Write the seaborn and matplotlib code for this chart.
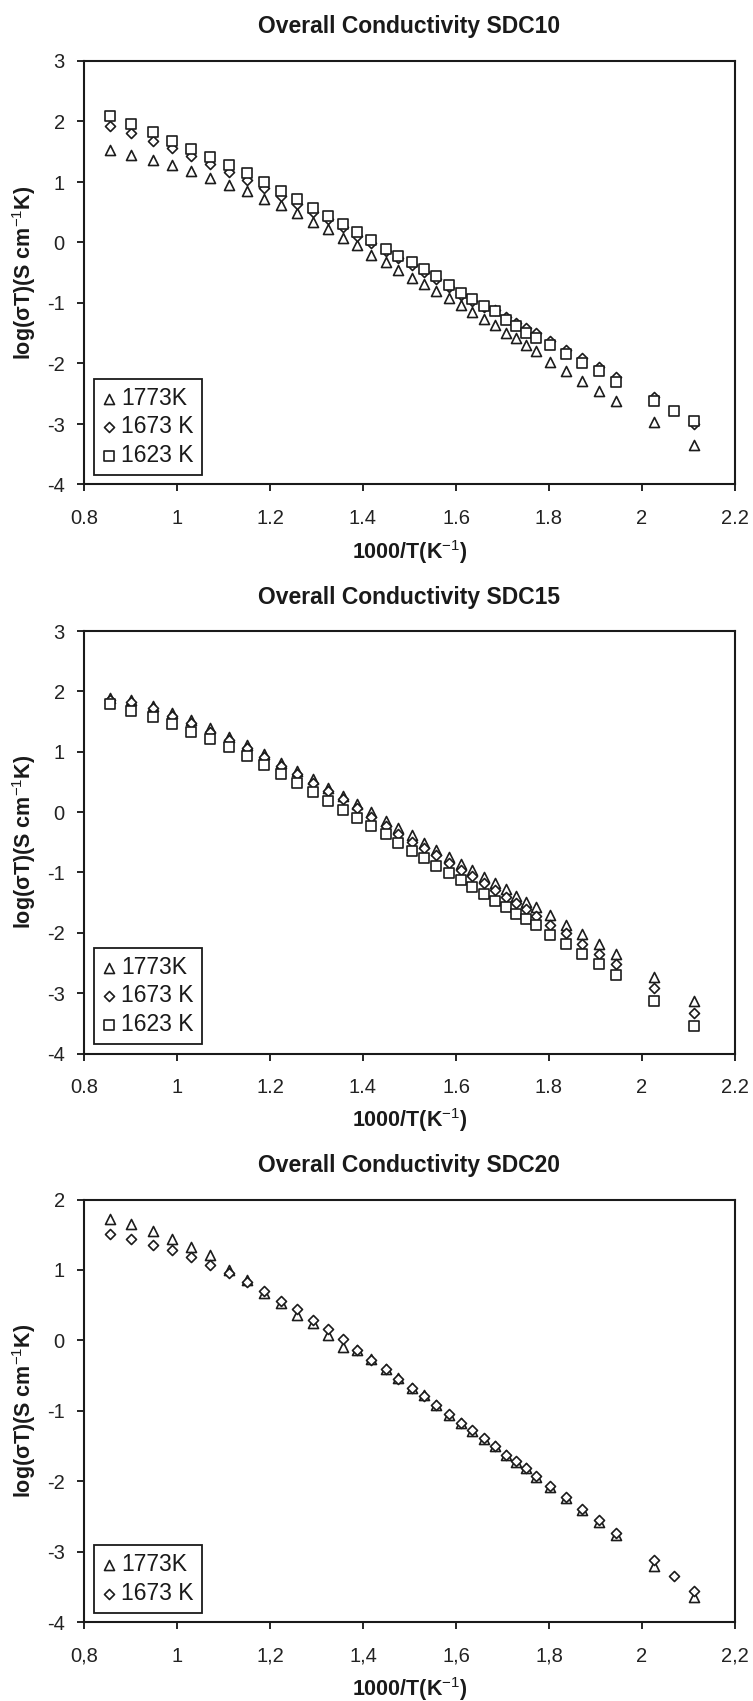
"""Overall conductivity of SDC10 / SDC15 / SDC20 — Arrhenius-type plots."""

import matplotlib

matplotlib.use("Agg")
import matplotlib.pyplot as plt
import numpy as np
import seaborn as sns

sns.set_theme(style="ticks")
plt.rcParams["font.family"] = ["Liberation Sans", "DejaVu Sans"]
plt.rcParams["mathtext.fontset"] = "custom"
plt.rcParams["mathtext.rm"] = "Liberation Sans"
plt.rcParams["mathtext.it"] = "Liberation Sans:italic"
plt.rcParams["mathtext.bf"] = "Liberation Sans:bold"

nan = np.nan

# 1000/T (K^-1), shared by every series
inv_temp = [
    0.856, 0.902, 0.948, 0.990, 1.031, 1.072, 1.111, 1.151, 1.187, 1.223,
    1.257, 1.292, 1.325, 1.356, 1.388, 1.418, 1.449, 1.476, 1.505, 1.531,
    1.558, 1.585, 1.611, 1.635, 1.660, 1.683, 1.707, 1.728, 1.751, 1.771,
    1.803, 1.836, 1.871, 1.907, 1.944, 2.026, 2.068, 2.112,
]

# SDC10
sdc10_1773 = [
    1.527, 1.444, 1.362, 1.279, 1.185, 1.059, 0.948, 0.854, 0.727, 0.617,
    0.490, 0.341, 0.215, 0.082, -0.045, -0.199, -0.321, -0.459, -0.580, -0.690,
    -0.801, -0.916, -1.038, -1.148, -1.260, -1.369, -1.496, -1.573, -1.688, -1.794,
    -1.976, -2.125, -2.290, -2.456, -2.621, -2.968, nan, -3.354,
]
sdc10_1673 = [
    1.924, 1.803, 1.682, 1.555, 1.428, 1.296, 1.169, 1.031, 0.900, 0.770,
    0.640, 0.510, 0.385, 0.250, 0.115, -0.010, -0.140, -0.260, -0.370, -0.480,
    -0.600, -0.740, -0.860, -0.960, -1.060, -1.110, -1.235, -1.330, -1.420, -1.500,
    -1.630, -1.770, -1.910, -2.050, -2.230, -2.560, nan, -3.000,
]
sdc10_1623 = [
    2.095, 1.957, 1.820, 1.682, 1.544, 1.417, 1.279, 1.141, 0.998, 0.854,
    0.716, 0.578, 0.446, 0.303, 0.170, 0.038, -0.100, -0.222, -0.321, -0.431,
    -0.552, -0.700, -0.828, -0.938, -1.054, -1.131, -1.275, -1.385, -1.490, -1.573,
    -1.700, -1.838, -1.987, -2.130, -2.307, -2.621, -2.787, -2.958,
]

# SDC15
sdc15_1773 = [
    1.890, 1.865, 1.765, 1.640, 1.520, 1.385, 1.245, 1.105, 0.955, 0.815,
    0.680, 0.540, 0.405, 0.270, 0.135, 0.005, -0.140, -0.270, -0.380, -0.518,
    -0.628, -0.739, -0.860, -0.959, -1.081, -1.169, -1.280, -1.390, -1.484, -1.567,
    -1.705, -1.871, -2.020, -2.185, -2.351, -2.738, nan, -3.124,
]
sdc15_1673 = [
    1.850, 1.824, 1.719, 1.592, 1.470, 1.332, 1.194, 1.056, 0.907, 0.763,
    0.625, 0.487, 0.349, 0.211, 0.073, -0.080, -0.230, -0.370, -0.490, -0.600,
    -0.711, -0.838, -0.959, -1.059, -1.180, -1.291, -1.412, -1.512, -1.611, -1.722,
    -1.871, -2.009, -2.185, -2.351, -2.517, -2.920, nan, -3.323,
]
sdc15_1623 = [
    1.790, 1.680, 1.581, 1.459, 1.332, 1.211, 1.073, 0.929, 0.780, 0.631,
    0.487, 0.338, 0.189, 0.034, -0.104, -0.230, -0.370, -0.518, -0.645, -0.766,
    -0.888, -1.004, -1.125, -1.247, -1.357, -1.468, -1.578, -1.689, -1.777, -1.876,
    -2.036, -2.191, -2.357, -2.522, -2.699, -3.130, nan, -3.544,
]

# SDC20
sdc20_1773 = [
    1.720, 1.645, 1.554, 1.443, 1.325, 1.212, 0.997, 0.851, 0.678, 0.537,
    0.364, 0.243, 0.075, -0.093, -0.140, -0.270, -0.410, -0.540, -0.675, -0.780,
    -0.915, -1.055, -1.180, -1.285, -1.400, -1.505, -1.635, -1.725, -1.820, -1.935,
    -2.085, -2.240, -2.415, -2.580, -2.770, -3.200, nan, -3.640,
]
sdc20_1673 = [
    1.517, 1.443, 1.356, 1.276, 1.177, 1.064, 0.957, 0.825, 0.705, 0.563,
    0.442, 0.285, 0.154, 0.023, -0.135, -0.281, -0.407, -0.544, -0.670, -0.790,
    -0.921, -1.052, -1.173, -1.278, -1.393, -1.498, -1.629, -1.718, -1.813, -1.928,
    -2.075, -2.222, -2.390, -2.558, -2.731, -3.124, -3.349, -3.554,
]

x_ticks = [0.8, 1.0, 1.2, 1.4, 1.6, 1.8, 2.0, 2.2]
x_ticklabels_dot = ["0.8", "1", "1.2", "1.4", "1.6", "1.8", "2", "2.2"]
x_ticklabels_comma = ["0,8", "1", "1,2", "1,4", "1,6", "1,8", "2", "2,2"]
y_ticks_a = [3, 2, 1, 0, -1, -2, -3, -4]
y_ticks_b = [2, 1, 0, -1, -2, -3, -4]

EDGE = "#1c1c1c"
MARKERS = {"1773K": ("^", 52), "1673 K": ("D", 26), "1623 K": ("s", 42)}

FIG_W, FIG_H = 753, 1701
AX_L, AX_R = 84, 735


def add_axes(fig, top_px, bottom_px):
    return fig.add_axes([
        AX_L / FIG_W,
        1 - bottom_px / FIG_H,
        (AX_R - AX_L) / FIG_W,
        (bottom_px - top_px) / FIG_H,
    ])


def draw_panel(ax, title, series, y_ticks, x_labels):
    for label, values in series:
        marker, size = MARKERS[label]
        sns.scatterplot(
            x=inv_temp, y=values, marker=marker, s=size,
            facecolor="white", edgecolor=EDGE, linewidth=1.2,
            label=label, ax=ax, zorder=3,
        )

    ax.set_xlim(0.8, 2.2)
    ax.set_ylim(min(y_ticks), max(y_ticks))
    ax.set_xticks(x_ticks, labels=x_labels)
    ax.set_yticks(y_ticks, labels=[str(t) for t in y_ticks])
    ax.tick_params(axis="both", direction="out", length=4.8, width=1.2,
                   color="black", labelsize=14.5, labelcolor="#222222")
    ax.tick_params(axis="y", pad=9)
    ax.tick_params(axis="x", pad=13)
    for sp in ax.spines.values():
        sp.set_visible(True)
        sp.set_linewidth(1.5)
        sp.set_color("#1a1a1a")

    ax.text(0.5, 1 + 34 / 423, title, transform=ax.transAxes,
            ha="center", va="center", fontsize=16.5, fontweight="bold",
            color="#1a1a1a")
    ax.set_xlabel(r"1000/T(K$^{-1}$)", fontsize=15.5, fontweight="bold",
                  color="#1a1a1a")
    ax.xaxis.set_label_coords(0.5, -67 / 423)
    ax.xaxis.label.set_va("center")
    ax.set_ylabel(r"log(σT)(S cm$^{-1}$K)", fontsize=15.5, fontweight="bold",
                  color="#1a1a1a")
    ax.yaxis.set_label_coords(-60 / 651, 0.5)
    ax.yaxis.label.set_va("center")

    leg = ax.legend(
        loc="lower left", bbox_to_anchor=(0.015, 0.022), borderaxespad=0,
        fontsize=16.5, frameon=True, fancybox=False, framealpha=1,
        edgecolor="#1a1a1a", handlelength=0.6, handletextpad=0.25,
        borderpad=0.35, labelspacing=0.25, scatterpoints=1,
    )
    leg.get_frame().set_linewidth(1.3)
    for txt in leg.get_texts():
        txt.set_color("#1a1a1a")


fig = plt.figure(figsize=(FIG_W / 100, FIG_H / 100), dpi=100)

ax1 = add_axes(fig, 61, 484.5)
draw_panel(
    ax1, "Overall Conductivity SDC10",
    [("1773K", sdc10_1773), ("1673 K", sdc10_1673), ("1623 K", sdc10_1623)],
    y_ticks_a, x_ticklabels_dot,
)

ax2 = add_axes(fig, 631, 1053.5)
draw_panel(
    ax2, "Overall Conductivity SDC15",
    [("1773K", sdc15_1773), ("1673 K", sdc15_1673), ("1623 K", sdc15_1623)],
    y_ticks_a, x_ticklabels_dot,
)

ax3 = add_axes(fig, 1199.5, 1622)
draw_panel(
    ax3, "Overall Conductivity SDC20",
    [("1773K", sdc20_1773), ("1673 K", sdc20_1673)],
    y_ticks_b, x_ticklabels_comma,
)

fig.savefig("out.png", dpi=100, facecolor="white")
